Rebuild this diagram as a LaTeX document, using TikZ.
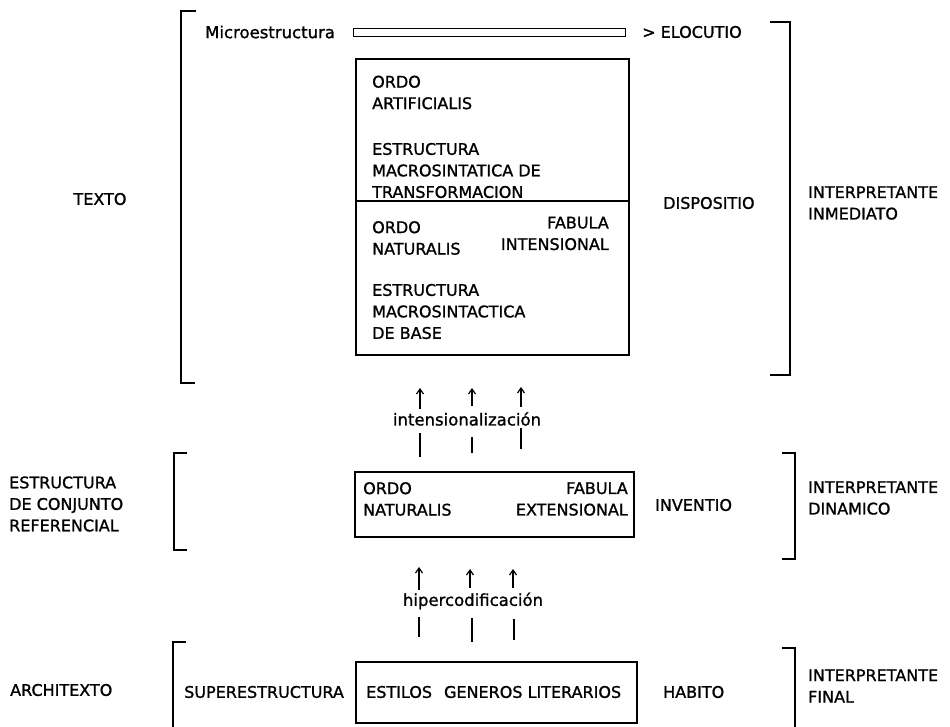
\documentclass[tikz,border=0pt]{standalone}
\usepackage{fontspec}
\setmainfont[FakeBold=1.2]{DejaVu Sans}
\usetikzlibrary{arrows.meta}
\tikzset{
  lbl/.style={font=\fontsize{16}{21.5}\selectfont, inner sep=0pt, align=left},
  lblr/.style={font=\fontsize{16}{21.5}\selectfont, inner sep=0pt, align=right},
  low/.style={font=\fontsize{16.5}{21.5}\selectfont, inner sep=0pt},
  brk/.style={line width=1.8pt},
  boxline/.style={draw, line width=1.4pt},
  uparrow/.style={-{Straight Barb[length=5pt,width=7pt,line width=1.2pt]}, line width=1.3pt},
  barline/.style={line width=1.3pt}
}
\begin{document}
\begin{tikzpicture}[x=1pt,y=-1pt]
\useasboundingbox (0,0) rectangle (950,727);

% ---------- top section ----------
\draw[brk] (196,11) -- (181,11) -- (181,383) -- (195,383);
\draw[brk] (770,22) -- (790,22) -- (790,375) -- (770,375);
\node[low, anchor=west] (micro) at (205,32) {Microestructura};
\draw[line width=1pt] (353,29) rectangle (625,37);
\node[lbl, anchor=west] (eloc) at (642,32) {> ELOCUTIO};
\node[lbl] (texto) at (100,199) {TEXTO};

\draw[boxline] (356,59) rectangle (629,355);
\draw[line width=1.2pt] (356,201) -- (629,201);
\node[lbl, anchor=west] (oa) at (372,92.5) {ORDO\\ARTIFICIALIS};
\node[lbl, anchor=west] (emt) at (372,170.5) {ESTRUCTURA\\MACROSINTATICA DE\\TRANSFORMACION};
\node[lbl, anchor=west] (on) at (372,238) {ORDO\\NATURALIS};
\node[lblr, anchor=east] (fi) at (609,233.5) {FABULA\\INTENSIONAL};
\node[lbl, anchor=west] (emb) at (372,311.5) {ESTRUCTURA\\MACROSINTACTICA\\DE BASE};
\node[lbl, anchor=west] (disp) at (663,203) {DISPOSITIO};
\node[lbl, anchor=west] (ii) at (808,203) {INTERPRETANTE\\INMEDIATO};

% ---------- intensionalizacion ----------
\draw[uparrow] (420,409) -- (420,388);
\draw[uparrow] (472,406) -- (472,388);
\draw[uparrow] (521,407) -- (521,387);
\node[low] (int) at (467,419) {intensionalización};
\draw[barline] (420,433) -- (420,457);
\draw[barline] (472,437) -- (472,453);
\draw[barline] (521,428) -- (521,449);

% ---------- middle section ----------
\draw[brk] (187,453) -- (174,453) -- (174,550) -- (187,550);
\node[lbl, anchor=west] (ecr) at (9,504) {ESTRUCTURA\\DE CONJUNTO\\REFERENCIAL};
\draw[boxline] (355,472) rectangle (634,537);
\node[lbl, anchor=west] (on2) at (363,499) {ORDO\\NATURALIS};
\node[lblr, anchor=east] (fe) at (628,499) {FABULA\\EXTENSIONAL};
\node[lbl, anchor=west] (inv) at (655,505) {INVENTIO};
\draw[brk] (782,453) -- (795,453) -- (795,559) -- (782,559);
\node[lbl, anchor=west] (id) at (808,498) {INTERPRETANTE\\DINAMICO};

% ---------- hipercodificacion ----------
\draw[uparrow] (419,590) -- (419,567);
\draw[uparrow] (470,588) -- (470,569);
\draw[uparrow] (513,588) -- (513,569);
\node[low] (hip) at (473,601) {hipercodificación};
\draw[barline] (419,617) -- (419,637);
\draw[barline] (472,618) -- (472,642);
\draw[barline] (514,619) -- (514,640);

% ---------- bottom section ----------
\draw[brk] (186,642) -- (173,642) -- (173,730);
\node[lbl, anchor=west] (arch) at (10,690) {ARCHITEXTO};
\node[lbl, anchor=west] (sup) at (184,692) {SUPERESTRUCTURA};
\draw[boxline] (356,662) rectangle (637,723);
\node[lbl, anchor=west] (egl) at (366,692) {ESTILOS\hspace{12pt}GENEROS LITERARIOS};
\node[lbl, anchor=west] (hab) at (663,692) {HABITO};
\draw[brk] (782,648) -- (795,648) -- (795,730);
\node[lbl, anchor=west] (if) at (808,686) {INTERPRETANTE\\FINAL};
\end{tikzpicture}
\end{document}
